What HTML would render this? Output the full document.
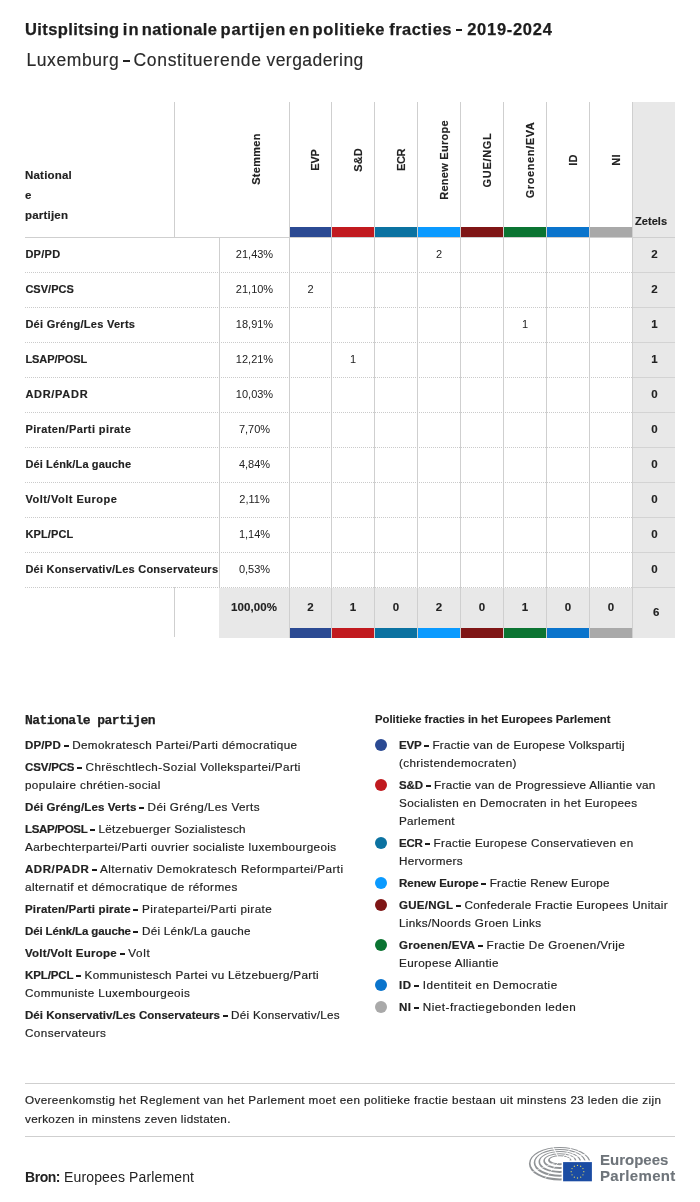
<!DOCTYPE html>
<html lang="nl"><head><meta charset="utf-8"><title>Uitsplitsing in nationale partijen en politieke fracties</title>
<style>
html,body{margin:0;padding:0;background:#fff;}
body{width:700px;height:1202px;position:relative;overflow:hidden;will-change:transform;font-family:"Liberation Sans",sans-serif;color:#222;}
.abs{position:absolute;white-space:nowrap;}
h1 span,h2 span{position:absolute;top:0;white-space:pre;}
h1 i,h2 i{position:absolute;display:block;}
h1{-webkit-text-stroke:0.25px #1d1d1d;position:absolute;left:0;top:18.9px;margin:0;font-size:16.5px;line-height:20px;font-weight:bold;letter-spacing:0.6px;white-space:nowrap;color:#1d1d1d;}
h2{-webkit-text-stroke:0.15px #2a2a2a;position:absolute;left:0;top:49.2px;margin:0;font-size:17.5px;line-height:22px;font-weight:normal;letter-spacing:0.64px;white-space:nowrap;color:#2a2a2a;}
.vl{position:absolute;width:1px;background:#cfcfcf;}
.hl{position:absolute;height:1px;background:#cfcfcf;}
.dl{position:absolute;height:0;border-top:1px dotted #cbcbcb;}
.bar{position:absolute;height:10px;}
.zet{position:absolute;background:#e8e8e8;}
.rl{-webkit-text-stroke:0.15px #222;position:absolute;left:25px;font-size:11px;font-weight:bold;line-height:14px;white-space:nowrap;letter-spacing:0.25px;}
.pc{position:absolute;font-size:11px;line-height:14px;text-align:center;white-space:nowrap;}
.b{font-weight:bold;font-size:11.5px;-webkit-text-stroke:0.12px #222;}
.rot{-webkit-text-stroke:0.15px #222;position:absolute;font-size:11px;font-weight:bold;line-height:14px;white-space:nowrap;transform:translate(-50%,-50%) rotate(-90deg);letter-spacing:0.3px;}
.ln{-webkit-text-stroke:0.18px #222;position:absolute;margin-top:0.4px;font-size:11.7px;line-height:18px;white-space:pre;color:#222;}
.ln b{font-weight:bold;font-size:11.5px;}
.ln i{display:inline-block;width:5px;height:2px;margin-left:2.6px;vertical-align:2.4px;background:#1c1c1c;}
.dot{position:absolute;width:12px;height:12px;border-radius:50%;}
</style></head><body>

<h1><span style="left:25.03px;letter-spacing:0.39px">Uitsplitsing</span> <span style="left:122.82px;letter-spacing:1.05px">in</span> <span style="left:141.75px;letter-spacing:0.33px">nationale</span> <span style="left:220.62px;letter-spacing:0.74px">partijen</span> <span style="left:289.01px;letter-spacing:1.14px">en</span> <span style="left:312.62px;letter-spacing:0.62px">politieke</span> <span style="left:389.13px;letter-spacing:0.53px">fracties</span> <i style="left:456px;top:9.8px;width:6.3px;height:2.5px;background:#1d1d1d"></i> <span style="left:467.24px;letter-spacing:0.71px">2019-2024</span></h1>
<h2><span style="left:26.41px;letter-spacing:0.59px">Luxemburg</span> <i style="left:122.8px;top:10.7px;width:6.8px;height:1.8px;background:#222"></i> <span style="left:133.56px;letter-spacing:0.67px">Constituerende</span> <span style="left:266.51px;letter-spacing:0.44px">vergadering</span></h2>
<div class="zet" style="left:632px;top:101.5px;width:43px;height:536px"></div>
<div class="zet" style="left:219px;top:588px;width:413px;height:49.5px"></div>
<div class="vl" style="left:174px;top:101.5px;height:135.5px"></div>
<div class="vl" style="left:174px;top:587px;height:50px"></div>
<div class="vl" style="left:219px;top:237px;height:350px"></div>
<div class="vl" style="left:289px;top:101.5px;height:536px"></div>
<div class="vl" style="left:331px;top:101.5px;height:536px"></div>
<div class="vl" style="left:374px;top:101.5px;height:536px"></div>
<div class="vl" style="left:417px;top:101.5px;height:536px"></div>
<div class="vl" style="left:460px;top:101.5px;height:536px"></div>
<div class="vl" style="left:503px;top:101.5px;height:536px"></div>
<div class="vl" style="left:546px;top:101.5px;height:536px"></div>
<div class="vl" style="left:589px;top:101.5px;height:536px"></div>
<div class="vl" style="left:632px;top:101.5px;height:536px"></div>
<div class="hl" style="left:25px;top:237px;width:650px"></div>
<div class="dl" style="left:25px;top:272px;width:607px"></div>
<div class="hl" style="left:633px;top:272px;width:42px;background:#d3d3d3"></div>
<div class="dl" style="left:25px;top:307px;width:607px"></div>
<div class="hl" style="left:633px;top:307px;width:42px;background:#d3d3d3"></div>
<div class="dl" style="left:25px;top:342px;width:607px"></div>
<div class="hl" style="left:633px;top:342px;width:42px;background:#d3d3d3"></div>
<div class="dl" style="left:25px;top:377px;width:607px"></div>
<div class="hl" style="left:633px;top:377px;width:42px;background:#d3d3d3"></div>
<div class="dl" style="left:25px;top:412px;width:607px"></div>
<div class="hl" style="left:633px;top:412px;width:42px;background:#d3d3d3"></div>
<div class="dl" style="left:25px;top:447px;width:607px"></div>
<div class="hl" style="left:633px;top:447px;width:42px;background:#d3d3d3"></div>
<div class="dl" style="left:25px;top:482px;width:607px"></div>
<div class="hl" style="left:633px;top:482px;width:42px;background:#d3d3d3"></div>
<div class="dl" style="left:25px;top:517px;width:607px"></div>
<div class="hl" style="left:633px;top:517px;width:42px;background:#d3d3d3"></div>
<div class="dl" style="left:25px;top:552px;width:607px"></div>
<div class="hl" style="left:633px;top:552px;width:42px;background:#d3d3d3"></div>
<div class="dl" style="left:25px;top:587px;width:607px"></div>
<div class="hl" style="left:633px;top:587px;width:42px;background:#d3d3d3"></div>
<div class="bar" style="left:290.0px;top:227px;width:41.0px;background:#2b4a93"></div>
<div class="bar" style="left:290.0px;top:628px;height:9.5px;width:41.0px;background:#2b4a93"></div>
<div class="bar" style="left:332.0px;top:227px;width:42.0px;background:#c11a1f"></div>
<div class="bar" style="left:332.0px;top:628px;height:9.5px;width:42.0px;background:#c11a1f"></div>
<div class="bar" style="left:375.0px;top:227px;width:42.0px;background:#0b72a1"></div>
<div class="bar" style="left:375.0px;top:628px;height:9.5px;width:42.0px;background:#0b72a1"></div>
<div class="bar" style="left:418.0px;top:227px;width:42.0px;background:#0a9aff"></div>
<div class="bar" style="left:418.0px;top:628px;height:9.5px;width:42.0px;background:#0a9aff"></div>
<div class="bar" style="left:461.0px;top:227px;width:42.0px;background:#7f1616"></div>
<div class="bar" style="left:461.0px;top:628px;height:9.5px;width:42.0px;background:#7f1616"></div>
<div class="bar" style="left:504.0px;top:227px;width:42.0px;background:#0b7432"></div>
<div class="bar" style="left:504.0px;top:628px;height:9.5px;width:42.0px;background:#0b7432"></div>
<div class="bar" style="left:547.0px;top:227px;width:42.0px;background:#0a74cc"></div>
<div class="bar" style="left:547.0px;top:628px;height:9.5px;width:42.0px;background:#0a74cc"></div>
<div class="bar" style="left:590.0px;top:227px;width:42.0px;background:#a9a9a9"></div>
<div class="bar" style="left:590.0px;top:628px;height:9.5px;width:42.0px;background:#a9a9a9"></div>
<div class="rl" style="top:165px;line-height:20px;white-space:normal;width:60px;font-size:11.5px;letter-spacing:0.2px">National<br>e<br>partijen</div>
<div class="rot" style="left:255.6px;top:159.3px">Stemmen</div>
<div class="rot" style="left:315.3px;top:159.7px;letter-spacing:-0.1px">EVP</div>
<div class="rot" style="left:357.8px;top:159.7px;letter-spacing:0.05px">S&amp;D</div>
<div class="rot" style="left:400.8px;top:159.7px;letter-spacing:-0.45px">ECR</div>
<div class="rot" style="left:443.8px;top:159.7px;letter-spacing:0.27px">Renew Europe</div>
<div class="rot" style="left:486.8px;top:159.7px;letter-spacing:0.7px">GUE/NGL</div>
<div class="rot" style="left:529.8px;top:159.7px;letter-spacing:0.6px">Groenen/EVA</div>
<div class="rot" style="left:572.8px;top:159.7px;letter-spacing:0.3px">ID</div>
<div class="rot" style="left:615.8px;top:159.7px;letter-spacing:0.3px">NI</div>
<div class="rl" style="left:635px;top:214px;letter-spacing:0.05px">Zetels</div>
<div class="rl" style="left:25.4px;top:247px;letter-spacing:0.28px">DP/PD</div>
<div class="pc" style="left:220px;width:69px;top:247px">21,43%</div>
<div class="pc" style="left:418px;width:42px;top:247px">2</div>
<div class="pc b" style="left:633.5px;width:42px;top:247px">2</div>
<div class="rl" style="left:25.4px;top:282px;letter-spacing:0.03px">CSV/PCS</div>
<div class="pc" style="left:220px;width:69px;top:282px">21,10%</div>
<div class="pc" style="left:290px;width:41px;top:282px">2</div>
<div class="pc b" style="left:633.5px;width:42px;top:282px">2</div>
<div class="rl" style="left:25.4px;top:317px;letter-spacing:0.28px">Déi Gréng/Les Verts</div>
<div class="pc" style="left:220px;width:69px;top:317px">18,91%</div>
<div class="pc" style="left:504px;width:42px;top:317px">1</div>
<div class="pc b" style="left:633.5px;width:42px;top:317px">1</div>
<div class="rl" style="left:25.4px;top:352px;letter-spacing:-0.05px">LSAP/POSL</div>
<div class="pc" style="left:220px;width:69px;top:352px">12,21%</div>
<div class="pc" style="left:332px;width:42px;top:352px">1</div>
<div class="pc b" style="left:633.5px;width:42px;top:352px">1</div>
<div class="rl" style="left:25.4px;top:387px;letter-spacing:0.71px">ADR/PADR</div>
<div class="pc" style="left:220px;width:69px;top:387px">10,03%</div>
<div class="pc b" style="left:633.5px;width:42px;top:387px">0</div>
<div class="rl" style="left:25.4px;top:422px;letter-spacing:0.40px">Piraten/Parti pirate</div>
<div class="pc" style="left:220px;width:69px;top:422px">7,70%</div>
<div class="pc b" style="left:633.5px;width:42px;top:422px">0</div>
<div class="rl" style="left:25.4px;top:457px;letter-spacing:0.14px">Déi Lénk/La gauche</div>
<div class="pc" style="left:220px;width:69px;top:457px">4,84%</div>
<div class="pc b" style="left:633.5px;width:42px;top:457px">0</div>
<div class="rl" style="left:25.4px;top:492px;letter-spacing:0.50px">Volt/Volt Europe</div>
<div class="pc" style="left:220px;width:69px;top:492px">2,11%</div>
<div class="pc b" style="left:633.5px;width:42px;top:492px">0</div>
<div class="rl" style="left:25.4px;top:527px;letter-spacing:0.13px">KPL/PCL</div>
<div class="pc" style="left:220px;width:69px;top:527px">1,14%</div>
<div class="pc b" style="left:633.5px;width:42px;top:527px">0</div>
<div class="rl" style="left:25.4px;top:562px;letter-spacing:0.23px">Déi Konservativ/Les Conservateurs</div>
<div class="pc" style="left:220px;width:69px;top:562px">0,53%</div>
<div class="pc b" style="left:633.5px;width:42px;top:562px">0</div>
<div class="pc b" style="left:219.5px;width:69px;top:600px;letter-spacing:0.12px">100,00%</div>
<div class="pc b" style="left:290px;width:41px;top:600px">2</div>
<div class="pc b" style="left:332px;width:42px;top:600px">1</div>
<div class="pc b" style="left:375px;width:42px;top:600px">0</div>
<div class="pc b" style="left:418px;width:42px;top:600px">2</div>
<div class="pc b" style="left:461px;width:42px;top:600px">0</div>
<div class="pc b" style="left:504px;width:42px;top:600px">1</div>
<div class="pc b" style="left:547px;width:42px;top:600px">0</div>
<div class="pc b" style="left:590px;width:42px;top:600px">0</div>
<div class="pc b" style="left:635.3px;width:42px;top:605px">6</div><div class="abs" style="left:25px;top:712.5px;font-family:'Liberation Mono',monospace;font-weight:bold;font-size:13px;line-height:16px;letter-spacing:-0.58px;-webkit-text-stroke:0.25px #222;">Nationale partijen</div>
<div class="ln" style="left:25px;top:736px"><b style="letter-spacing:0.15px">DP/PD</b><i></i><span style="letter-spacing:0.39px"> Demokratesch Partei/Parti démocratique</span></div>
<div class="ln" style="left:25px;top:758px"><b style="letter-spacing:-0.16px">CSV/PCS</b><i></i><span style="letter-spacing:0.37px"> Chrëschtlech-Sozial Vollekspartei/Parti</span></div>
<div class="ln" style="left:25px;top:776px"><span style="letter-spacing:0.36px">populaire chrétien-social</span></div>
<div class="ln" style="left:25px;top:798px"><b style="letter-spacing:0.11px">Déi Gréng/Les Verts</b><i></i><span style="letter-spacing:0.37px"> Déi Gréng/Les Verts</span></div>
<div class="ln" style="left:25px;top:820px"><b style="letter-spacing:-0.31px">LSAP/POSL</b><i></i><span style="letter-spacing:0.27px"> Lëtzebuerger Sozialistesch</span></div>
<div class="ln" style="left:25px;top:838px"><span style="letter-spacing:0.39px">Aarbechterpartei/Parti ouvrier socialiste luxembourgeois</span></div>
<div class="ln" style="left:25px;top:860px"><b style="letter-spacing:0.57px">ADR/PADR</b><i></i><span style="letter-spacing:0.43px"> Alternativ Demokratesch Reformpartei/Parti</span></div>
<div class="ln" style="left:25px;top:878px"><span style="letter-spacing:0.40px">alternatif et démocratique de réformes</span></div>
<div class="ln" style="left:25px;top:900px"><b style="letter-spacing:0.18px">Piraten/Parti pirate</b><i></i><span style="letter-spacing:0.42px"> Piratepartei/Parti pirate</span></div>
<div class="ln" style="left:25px;top:922px"><b style="letter-spacing:-0.12px">Déi Lénk/La gauche</b><i></i><span style="letter-spacing:0.27px"> Déi Lénk/La gauche</span></div>
<div class="ln" style="left:25px;top:944px"><b style="letter-spacing:0.26px">Volt/Volt Europe</b><i></i><span style="letter-spacing:0.61px"> Volt</span></div>
<div class="ln" style="left:25px;top:966px"><b style="letter-spacing:-0.11px">KPL/PCL</b><i></i><span style="letter-spacing:0.32px"> Kommunistesch Partei vu Lëtzebuerg/Parti</span></div>
<div class="ln" style="left:25px;top:984px"><span style="letter-spacing:0.40px">Communiste Luxembourgeois</span></div>
<div class="ln" style="left:25px;top:1006px"><b style="letter-spacing:0.04px">Déi Konservativ/Les Conservateurs</b><i></i><span style="letter-spacing:0.26px"> Déi Konservativ/Les</span></div>
<div class="ln" style="left:25px;top:1024px"><span style="letter-spacing:0.41px">Conservateurs</span></div>
<div class="abs b" style="left:375px;top:711px;font-size:11.3px;line-height:16px;">Politieke fracties in het Europees Parlement</div>
<div class="dot" style="left:375px;top:739px;background:#2b4a93"></div>
<div class="ln" style="left:399px;top:736px"><b style="letter-spacing:-0.21px">EVP</b><i></i><span style="letter-spacing:0.24px"> Fractie van de Europese Volkspartij</span></div>
<div class="ln" style="left:399px;top:754px"><span style="letter-spacing:0.37px">(christendemocraten)</span></div>
<div class="dot" style="left:375px;top:779px;background:#c11a1f"></div>
<div class="ln" style="left:399px;top:776px"><b style="letter-spacing:-0.09px">S&amp;D</b><i></i><span style="letter-spacing:0.25px"> Fractie van de Progressieve Alliantie van</span></div>
<div class="ln" style="left:399px;top:794px"><span style="letter-spacing:0.33px">Socialisten en Democraten in het Europees</span></div>
<div class="ln" style="left:399px;top:812px"><span style="letter-spacing:0.28px">Parlement</span></div>
<div class="dot" style="left:375px;top:837px;background:#0b72a1"></div>
<div class="ln" style="left:399px;top:834px"><b style="letter-spacing:-0.29px">ECR</b><i></i><span style="letter-spacing:0.30px"> Fractie Europese Conservatieven en</span></div>
<div class="ln" style="left:399px;top:852px"><span style="letter-spacing:0.28px">Hervormers</span></div>
<div class="dot" style="left:375px;top:877px;background:#0a9aff"></div>
<div class="ln" style="left:399px;top:874px"><b style="letter-spacing:-0.01px">Renew Europe</b><i></i><span style="letter-spacing:0.18px"> Fractie Renew Europe</span></div>
<div class="dot" style="left:375px;top:899px;background:#7f1616"></div>
<div class="ln" style="left:399px;top:896px"><b style="letter-spacing:0.29px">GUE/NGL</b><i></i><span style="letter-spacing:0.29px"> Confederale Fractie Europees Unitair</span></div>
<div class="ln" style="left:399px;top:914px"><span style="letter-spacing:0.33px">Links/Noords Groen Links</span></div>
<div class="dot" style="left:375px;top:939px;background:#0b7432"></div>
<div class="ln" style="left:399px;top:936px"><b style="letter-spacing:0.28px">Groenen/EVA</b><i></i><span style="letter-spacing:0.41px"> Fractie De Groenen/Vrije</span></div>
<div class="ln" style="left:399px;top:954px"><span style="letter-spacing:0.35px">Europese Alliantie</span></div>
<div class="dot" style="left:375px;top:979px;background:#0a74cc"></div>
<div class="ln" style="left:399px;top:976px"><b style="letter-spacing:0.45px">ID</b><i></i><span style="letter-spacing:0.48px"> Identiteit en Democratie</span></div>
<div class="dot" style="left:375px;top:1001px;background:#a9a9a9"></div>
<div class="ln" style="left:399px;top:998px"><b style="letter-spacing:0.45px">NI</b><i></i><span style="letter-spacing:0.51px"> Niet-fractiegebonden leden</span></div>
<div class="hl" style="left:25px;top:1083px;width:650px"></div>
<div class="ln" style="left:25px;top:1091px"><span style="letter-spacing:0.38px">Overeenkomstig het Reglement van het Parlement moet een politieke fractie bestaan uit minstens 23 leden die zijn</span></div>
<div class="ln" style="left:25px;top:1109.5px"><span style="letter-spacing:0.31px">verkozen in minstens zeven lidstaten.</span></div>
<div class="hl" style="left:25px;top:1136px;width:650px"></div>
<div class="abs" style="left:25px;top:1168.4px;font-size:14px;line-height:18px;letter-spacing:0.13px"><b style="font-size:14px;letter-spacing:-0.45px">Bron:</b> Europees Parlement</div>
<svg class="abs" style="left:524px;top:1142px" width="76" height="46" viewBox="524 1142 76 46">
<path d="M528.90,1163.70A30.95,16.80 0 1,1 590.80,1163.70A30.95,16.80 0 1,1 528.90,1163.70ZM530.50,1163.20A29.35,15.30 0 1,0 589.20,1163.20A29.35,15.30 0 1,0 530.50,1163.20ZM533.70,1162.84A26.15,13.86 0 1,1 586.00,1162.84A26.15,13.86 0 1,1 533.70,1162.84ZM535.30,1162.34A24.55,12.36 0 1,0 584.40,1162.34A24.55,12.36 0 1,0 535.30,1162.34ZM538.50,1161.98A21.35,10.92 0 1,1 581.20,1161.98A21.35,10.92 0 1,1 538.50,1161.98ZM540.10,1161.48A19.75,9.42 0 1,0 579.60,1161.48A19.75,9.42 0 1,0 540.10,1161.48ZM543.30,1161.12A16.55,7.98 0 1,1 576.40,1161.12A16.55,7.98 0 1,1 543.30,1161.12ZM544.90,1160.62A14.95,6.48 0 1,0 574.80,1160.62A14.95,6.48 0 1,0 544.90,1160.62ZM548.10,1160.26A11.75,5.04 0 1,1 571.60,1160.26A11.75,5.04 0 1,1 548.10,1160.26ZM549.70,1159.76A10.15,3.54 0 1,0 570.00,1159.76A10.15,3.54 0 1,0 549.70,1159.76Z" fill="#909396" fill-rule="evenodd"/>
<path d="M559.85,1160.60L541.56,1125.03" stroke="#fff" stroke-width="1.0" fill="none"/>
<path d="M559.85,1160.60L586.55,1130.81" stroke="#fff" stroke-width="0.8" fill="none"/>
<path d="M559.85,1160.60L595.20,1141.89" stroke="#fff" stroke-width="0.8" fill="none"/>
<path d="M559.85,1160.60L598.63,1150.81" stroke="#fff" stroke-width="0.8" fill="none"/>
<path d="M559.85,1160.60L534.31,1191.39" stroke="#fff" stroke-width="0.7" fill="none"/>
<path d="M559.85,1160.60L522.83,1175.75" stroke="#fff" stroke-width="0.6" fill="none"/>
<rect x="561.6" y="1160.4" width="36" height="26" fill="#fff"/>
<rect x="563.1" y="1162.1" width="28.8" height="19.2" fill="#1b4ca3"/>
<circle cx="577.50" cy="1165.40" r="0.65" fill="#ddd460"/>
<circle cx="580.65" cy="1166.24" r="0.65" fill="#ddd460"/>
<circle cx="582.96" cy="1168.55" r="0.65" fill="#ddd460"/>
<circle cx="583.80" cy="1171.70" r="0.65" fill="#ddd460"/>
<circle cx="582.96" cy="1174.85" r="0.65" fill="#ddd460"/>
<circle cx="580.65" cy="1177.16" r="0.65" fill="#ddd460"/>
<circle cx="577.50" cy="1178.00" r="0.65" fill="#ddd460"/>
<circle cx="574.35" cy="1177.16" r="0.65" fill="#ddd460"/>
<circle cx="572.04" cy="1174.85" r="0.65" fill="#ddd460"/>
<circle cx="571.20" cy="1171.70" r="0.65" fill="#ddd460"/>
<circle cx="572.04" cy="1168.55" r="0.65" fill="#ddd460"/>
<circle cx="574.35" cy="1166.24" r="0.65" fill="#ddd460"/>
</svg>
<div class="abs b" style="left:600px;top:1152px;font-size:15px;line-height:15.4px;color:#6e747a;-webkit-text-stroke:0.1px #6e747a;white-space:normal;width:90px;top:1152.3px">Europees<br><span style="letter-spacing:0.35px">Parlement</span></div>
</body></html>
